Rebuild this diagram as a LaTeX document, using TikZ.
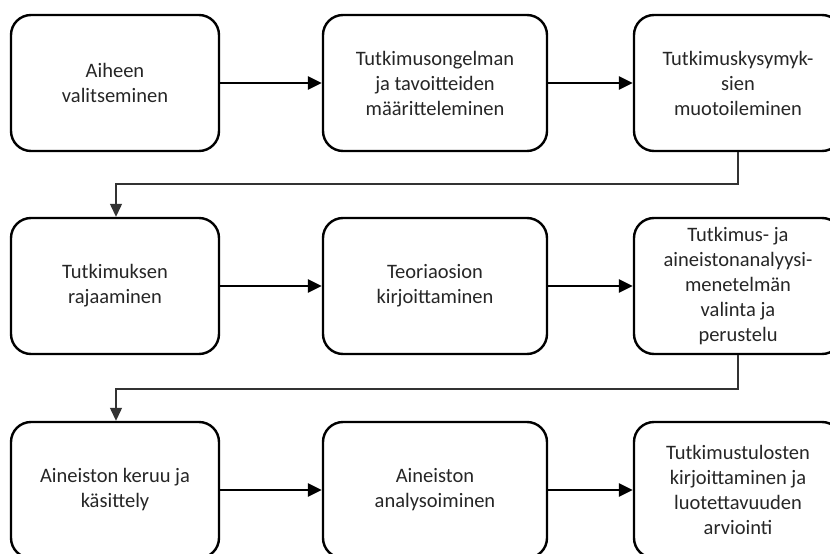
\documentclass[tikz,border=0pt]{standalone}
\usepackage{fontspec}
\setmainfont{Carlito}
\usetikzlibrary{arrows.meta}
\definecolor{txt}{HTML}{262626}
\tikzset{
  box/.style={draw=black, line width=2.4pt, rounded corners=20pt, fill=white,
    minimum height=136pt, align=center, text=txt,
    font=\fontsize{20.5}{25}\selectfont, inner sep=2pt},
  flow/.style={line width=2.8pt, -{Triangle[length=14pt,width=13pt]}},
  elbow/.style={line width=1.3pt, draw=black!80, -{Triangle[length=13pt,width=12pt]}}
}
\begin{document}
\begin{tikzpicture}[x=1pt,y=-1pt]
\clip (0,0) rectangle (830,554);
\fill[white] (0,0) rectangle (830,554);
% row 1
\node[box, minimum width=208pt] (b1) at (115,83) {Aiheen\\valitseminen};
\node[box, minimum width=224pt] (b2) at (435,83) {Tutkimusongelman\\ja tavoitteiden\\määritteleminen};
\node[box, minimum width=208pt] (b3) at (738,83) {Tutkimuskysymyk-\\sien\\muotoileminen};
% row 2
\node[box, minimum width=208pt] (b4) at (115,286) {Tutkimuksen\\rajaaminen};
\node[box, minimum width=224pt] (b5) at (435,286) {Teoriaosion\\kirjoittaminen};
\node[box, minimum width=208pt] (b6) at (738,286) {Tutkimus- ja\\aineistonanalyysi-\\menetelmän\\valinta ja\\perustelu};
% row 3
\node[box, minimum width=208pt] (b7) at (115,490) {Aineiston keruu ja\\käsittely};
\node[box, minimum width=224pt] (b8) at (435,490) {Aineiston\\analysoiminen};
\node[box, minimum width=208pt] (b9) at (738,490) {Tutkimustulosten\\kirjoittaminen ja\\luotettavuuden\\arviointi};
% connectors
\draw[flow] (b1) -- (b2);
\draw[flow] (b2) -- (b3);
\draw[flow] (b4) -- (b5);
\draw[flow] (b5) -- (b6);
\draw[flow] (b7) -- (b8);
\draw[flow] (b8) -- (b9);
\coordinate (k1) at (116,184);
\coordinate (k2) at (116,389);
\draw[elbow] (b3.south) |- (k1) -- (k1 |- b4.north);
\draw[elbow] (b6.south) |- (k2) -- (k2 |- b7.north);
\end{tikzpicture}
\end{document}
